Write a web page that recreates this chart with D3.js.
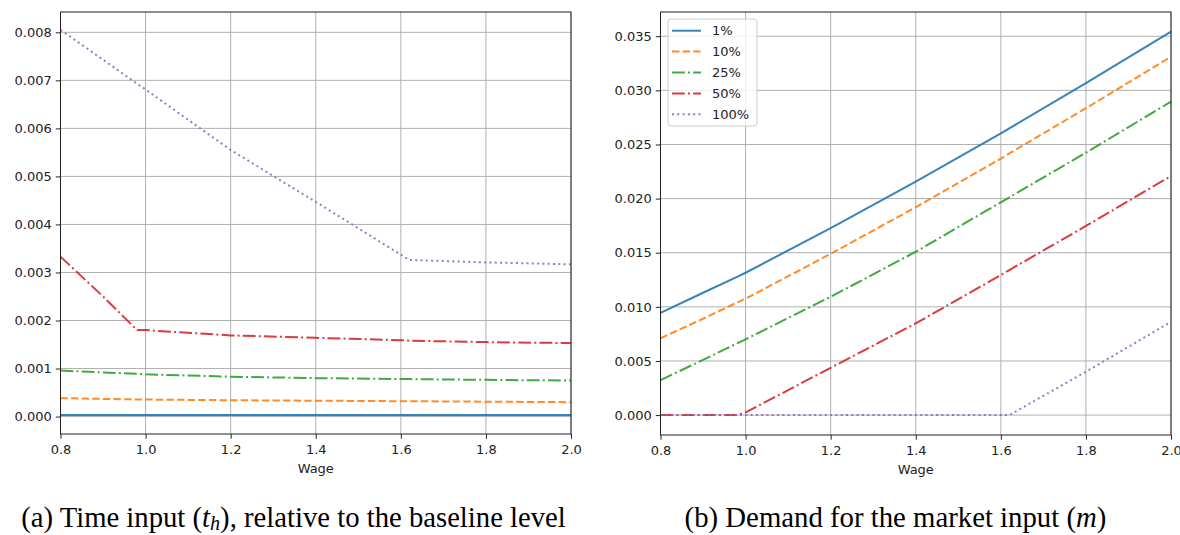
<!DOCTYPE html>
<html>
<head>
<meta charset="utf-8">
<script src="https://cdn.jsdelivr.net/npm/d3@7"></script>
<style>
  html, body { margin: 0; padding: 0; background: #fff; }
  svg { display: block; }
  .tick text { font-family: "DejaVu Sans", sans-serif; font-size: 13px; fill: #222; }
  .axis-label { font-family: "DejaVu Sans", sans-serif; font-size: 13px; fill: #222; }
  .caption { font-family: "Liberation Serif", "Times New Roman", serif; fill: #000; }
</style>
</head>
<body>
<svg id="fig" width="1180" height="535"></svg>
<script>
// Wage grid shared by every series
const wages = [0.8, 0.9, 0.98, 1.0, 1.2, 1.4, 1.6, 1.62, 1.8, 2.0];

// Series labels (share of the population)
const seriesNames = ["1%", "10%", "25%", "50%", "100%"];

// (a) Time input t_h, relative to the baseline level
const time1   = [0.00003, 0.00003, 0.00003, 0.00003, 0.00003, 0.00003, 0.00003, 0.00003, 0.00003, 0.00003];
const time10  = [0.000383, 0.000368, 0.000356, 0.000354, 0.00034, 0.00033, 0.00032, 0.00032, 0.00031, 0.0003];
const time25  = [0.000957, 0.00092, 0.00089, 0.00088, 0.00083, 0.0008, 0.00078, 0.00078, 0.000764, 0.00075];
const time50  = [0.00333, 0.0025, 0.0018, 0.0018, 0.00169, 0.00164, 0.00159, 0.00158, 0.00155, 0.00153];
const time100 = [0.00805, 0.00743, 0.00693, 0.00681, 0.00555, 0.00447, 0.00337, 0.00326, 0.00321, 0.00317];

// (b) Demand for the market input m
const market1   = [0.00945, 0.0113, 0.01277, 0.01315, 0.01728, 0.02156, 0.02603, 0.02649, 0.03066, 0.03542];
const market10  = [0.0071, 0.0089, 0.0104, 0.01075, 0.0149, 0.0192, 0.0237, 0.02417, 0.02835, 0.0331];
const market25  = [0.00323, 0.0051, 0.00662, 0.0070, 0.01093, 0.01509, 0.01966, 0.02012, 0.02424, 0.02896];
const market50  = [0, 0, 0, 0.00025, 0.00437, 0.00847, 0.01294, 0.0134, 0.01747, 0.02209];
const market100 = [0, 0, 0, 0, 0, 0, 0, 0, 0.0040, 0.00862];

// Tick values
const xTicks = [0.8, 1.0, 1.2, 1.4, 1.6, 1.8, 2.0];
const yTicksTime = [0, 0.001, 0.002, 0.003, 0.004, 0.005, 0.006, 0.007, 0.008];
const yTicksMarket = [0, 0.005, 0.010, 0.015, 0.020, 0.025, 0.030, 0.035];

// Line styles per series (tab10 colours, matplotlib dash patterns)
const colors = ["#1f77b4", "#ff7f0e", "#2ca02c", "#d62728", "#9467bd"];
const dashes = [null, "7.4,3.2", "12.8,3.2,2,3.2", "12.8,3.2,2,3.2", "2,3.3"];

const svg = d3.select("#fig");

function drawPanel(cfg) {
  const g = svg.append("g");
  const x = d3.scaleLinear().domain([0.8, 2.0]).range([cfg.left, cfg.right]);
  const y = d3.scaleLinear().domain(cfg.yDomain).range([cfg.bottom, cfg.top]);

  // grid
  g.append("g").selectAll("line.vg").data(xTicks).join("line")
    .attr("x1", d => x(d)).attr("x2", d => x(d))
    .attr("y1", cfg.top).attr("y2", cfg.bottom)
    .attr("stroke", "#b0b0b0").attr("stroke-width", 1);
  g.append("g").selectAll("line.hg").data(cfg.yTicks).join("line")
    .attr("x1", cfg.left).attr("x2", cfg.right)
    .attr("y1", d => y(d)).attr("y2", d => y(d))
    .attr("stroke", "#b0b0b0").attr("stroke-width", 1);

  // series
  const line = d3.line().x(d => x(d[0])).y(d => y(d[1]));
  const plot = g.append("g");
  cfg.series.forEach((vals, i) => {
    const pts = wages.map((w, k) => [w, vals[k]]);
    plot.append("path")
      .attr("d", line(pts))
      .attr("fill", "none")
      .attr("stroke", colors[i])
      .attr("stroke-width", 2)
      .attr("stroke-dasharray", dashes[i])
      .attr("stroke-linejoin", "round")
      .attr("opacity", 0.9);
  });

  // axes
  const xAxis = d3.axisBottom(x).tickValues(xTicks).tickFormat(d3.format(".1f")).tickSize(4.7).tickPadding(4);
  const yAxis = d3.axisLeft(y).tickValues(cfg.yTicks).tickFormat(d3.format(".3f")).tickSize(4.7).tickPadding(4);
  const gx = g.append("g").attr("transform", `translate(0,${cfg.bottom})`).call(xAxis);
  const gy = g.append("g").attr("transform", `translate(${cfg.left},0)`).call(yAxis);
  [gx, gy].forEach(a => {
    a.select(".domain").remove();
    a.selectAll(".tick line").attr("stroke", "#222");
  });
  gx.selectAll(".tick text").attr("dy", "0.9em");

  // frame
  g.append("rect")
    .attr("x", cfg.left).attr("y", cfg.top)
    .attr("width", cfg.right - cfg.left).attr("height", cfg.bottom - cfg.top)
    .attr("fill", "none").attr("stroke", "#222").attr("stroke-width", 1);

  g.append("text").attr("class", "axis-label")
    .attr("x", (cfg.left + cfg.right) / 2).attr("y", cfg.bottom + 39)
    .attr("text-anchor", "middle").text("Wage");

  return { x, y, g };
}

drawPanel({
  left: 60.5, right: 571, top: 12, bottom: 434,
  yDomain: [-0.000363, 0.008423], yTicks: yTicksTime,
  series: [time1, time10, time25, time50, time100]
});

const right = drawPanel({
  left: 660.5, right: 1171, top: 12, bottom: 435,
  yDomain: [-0.00184, 0.03724], yTicks: yTicksMarket,
  series: [market1, market10, market25, market50, market100]
});

// legend
const lg = right.g.append("g").attr("transform", "translate(668,19)");
lg.append("rect").attr("width", 89).attr("height", 107).attr("rx", 3)
  .attr("fill", "#fff").attr("fill-opacity", 0.8)
  .attr("stroke", "#cccccc").attr("stroke-width", 1);
seriesNames.forEach((name, i) => {
  const yy = 11.7 + i * 20.9;
  lg.append("line").attr("x1", 4).attr("x2", 33).attr("y1", yy).attr("y2", yy)
    .attr("stroke", colors[i]).attr("stroke-width", 2)
    .attr("stroke-dasharray", dashes[i]).attr("opacity", 0.9);
  lg.append("text").attr("class", "axis-label")
    .attr("x", 44).attr("y", yy).attr("dy", "0.35em").text(name);
});

// captions
function caption(cx, width, parts) {
  const t = svg.append("text").attr("class", "caption")
    .attr("x", cx).attr("y", 527).attr("text-anchor", "middle")
    .style("font-size", "24px");
  parts.forEach(p => {
    const s = t.append("tspan").text(p.text);
    if (p.italic) s.style("font-style", "italic");
    if (p.sub) s.attr("baseline-shift", "-3px").style("font-size", "17px");
  });
  const w = t.node().getComputedTextLength();
  const size = 24 * width / w;
  t.style("font-size", size + "px");
  t.selectAll("tspan").filter(function() { return this.getAttribute("baseline-shift"); })
    .style("font-size", (size * 0.7) + "px");
}

caption(293.5, 545, [
  { text: "(a) Time input (" }, { text: "t", italic: true }, { text: "h", italic: true, sub: true },
  { text: "), relative to the baseline level" }
]);
caption(895.5, 422, [
  { text: "(b) Demand for the market input (" }, { text: "m", italic: true }, { text: ")" }
]);
</script>
</body>
</html>
